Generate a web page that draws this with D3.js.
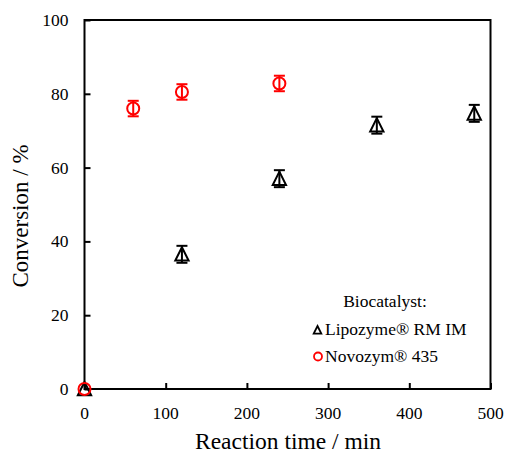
<!DOCTYPE html>
<html>
<head>
<meta charset="utf-8">
<script src="https://cdn.jsdelivr.net/npm/d3@7"></script>
<style>
  body { margin: 0; background: #fff; }
  text { font-family: "Liberation Serif", "Times New Roman", serif; fill: #000; }
</style>
</head>
<body>
<svg id="chart"></svg>
<script>
// reaction time (min) and conversion (%) with error
const lipoTime = [0, 120, 240, 360, 480];
const lipoConv = [0, 36.5, 57, 71.5, 74.7];
const lipoErr = [0, 2.3, 2.3, 2.3, 2.3];

const novoTime = [0, 60, 120, 240];
const novoConv = [0, 76, 80.5, 82.8];
const novoErr = [0, 2.1, 2.1, 2.1];

const xTicks = [0, 100, 200, 300, 400, 500];
const yTicks = [0, 20, 40, 60, 80, 100];

const W = 506, H = 455;
const M = {top: 20, right: 15.5, bottom: 66, left: 84.5};

const svg = d3.select("#chart").attr("width", W).attr("height", H);

const x = d3.scaleLinear().domain([0, 500]).range([M.left, W - M.right]);
const y = d3.scaleLinear().domain([0, 100]).range([H - M.bottom, M.top]);

// ticks (inside)
svg.append("g")
  .attr("transform", `translate(0,${y(0)})`)
  .call(d3.axisTop(x).tickValues(xTicks).tickSize(6).tickFormat(""))
  .call(g => g.select(".domain").remove())
  .call(g => g.selectAll("line").attr("stroke-width", 2));

svg.append("g")
  .attr("transform", `translate(${x(0)},0)`)
  .call(d3.axisRight(y).tickValues(yTicks).tickSize(6).tickFormat(""))
  .call(g => g.select(".domain").remove())
  .call(g => g.selectAll("line").attr("stroke-width", 2));

// tick labels
svg.selectAll(".xl").data(xTicks).enter().append("text")
  .attr("x", d => x(d)).attr("y", 419)
  .attr("text-anchor", "middle").attr("font-size", 17.5)
  .text(d => d);

svg.selectAll(".yl").data(yTicks).enter().append("text")
  .attr("x", 68.5).attr("y", d => y(d) + 6)
  .attr("text-anchor", "end").attr("font-size", 17.5)
  .text(d => d);

// frame
svg.append("rect")
  .attr("x", x(0)).attr("y", y(100))
  .attr("width", x(500) - x(0)).attr("height", y(0) - y(100))
  .attr("fill", "none").attr("stroke", "#000").attr("stroke-width", 2);

// axis titles
svg.append("text")
  .attr("x", (x(0) + x(500)) / 2 + 0.5).attr("y", 449)
  .attr("text-anchor", "middle").attr("font-size", 23.5)
  .text("Reaction time / min");

svg.append("text")
  .attr("transform", `translate(28,216) rotate(-90)`)
  .attr("text-anchor", "middle").attr("font-size", 23)
  .text("Conversion / %");

function errorBars(times, conv, err, color) {
  const g = svg.append("g").attr("stroke", color).attr("stroke-width", 2);
  times.forEach((t, i) => {
    if (!err[i]) return;
    const cx = x(t), y1 = y(conv[i] + err[i]), y2 = y(conv[i] - err[i]);
    g.append("line").attr("x1", cx).attr("x2", cx).attr("y1", y1).attr("y2", y2);
    g.append("line").attr("x1", cx - 5.5).attr("x2", cx + 5.5).attr("y1", y1).attr("y2", y1);
    g.append("line").attr("x1", cx - 5.5).attr("x2", cx + 5.5).attr("y1", y2).attr("y2", y2);
  });
}

function tri(s) {
  return `M0,${-s}L${s * 0.95},${s * 0.9}L${-s * 0.95},${s * 0.9}Z`;
}

// Lipozyme
errorBars(lipoTime, lipoConv, lipoErr, "#000");
svg.selectAll(".lipo").data(lipoTime).enter().append("path")
  .attr("d", tri(7))
  .attr("transform", (d, i) => `translate(${x(d)},${y(lipoConv[i])})`)
  .attr("fill", "none").attr("stroke", "#000").attr("stroke-width", 2);

// Novozym
errorBars(novoTime, novoConv, novoErr, "#ff0000");
svg.selectAll(".novo").data(novoTime).enter().append("circle")
  .attr("cx", d => x(d)).attr("cy", (d, i) => y(novoConv[i]))
  .attr("r", 6)
  .attr("fill", "none").attr("stroke", "#ff0000").attr("stroke-width", 2);

// legend
svg.append("text").attr("x", 385).attr("y", 306.5)
  .attr("text-anchor", "middle").attr("font-size", 17.5)
  .text("Biocatalyst:");

svg.append("path").attr("d", tri(4))
  .attr("transform", "translate(317.5,330)")
  .attr("fill", "none").attr("stroke", "#000").attr("stroke-width", 1.8);
svg.append("text").attr("x", 325).attr("y", 335)
  .attr("font-size", 17.5).text("Lipozyme® RM IM");

svg.append("circle").attr("cx", 318).attr("cy", 356.5).attr("r", 4)
  .attr("fill", "none").attr("stroke", "#ff0000").attr("stroke-width", 1.8);
svg.append("text").attr("x", 325).attr("y", 362)
  .attr("font-size", 17.5).text("Novozym® 435");
</script>
</body>
</html>
